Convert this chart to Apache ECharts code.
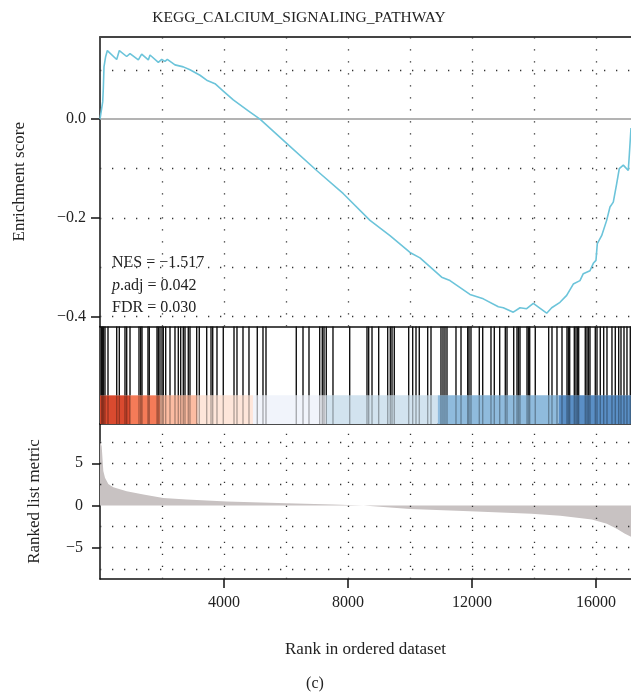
<!DOCTYPE html>
<html>
<head>
<meta charset="utf-8">
<script src="https://cdn.jsdelivr.net/npm/echarts@6/dist/echarts.min.js"></script>
<style>
  html, body { margin: 0; padding: 0; background: #fff; }
  #main { width: 631px; height: 698px; }
</style>
</head>
<body>
<div id="main"></div>
<script>
// gene list length
const N = 17130

// running enrichment score (rank, ES)
const esRank = [0, 55, 87, 107, 129, 183, 237, 538, 624, 860, 968, 1237, 1344, 1559, 1613, 1882, 1990, 2097, 2172, 2419, 2473, 2688, 2903, 3226, 3441, 3710, 3978, 4300, 4784, 5161, 6022, 6990, 7850, 8710, 9355, 10000, 10323, 11022, 11290, 11935, 12365, 12850, 13011, 13333, 13549, 13764, 13978, 14410, 14572, 14839, 15055, 15268, 15484, 15591, 15807, 15914, 16000, 16043, 16183, 16345, 16452, 16559, 16667, 16752, 16882, 17042, 17075, 17130]
const esScore = [0, 0.0, 0.035, 0.062, 0.106, 0.127, 0.139, 0.121, 0.139, 0.127, 0.133, 0.12, 0.132, 0.12, 0.13, 0.115, 0.121, 0.117, 0.121, 0.11, 0.113, 0.106, 0.1, 0.089, 0.079, 0.072, 0.057, 0.039, 0.017, 0.0, -0.049, -0.104, -0.151, -0.205, -0.236, -0.27, -0.281, -0.32, -0.327, -0.355, -0.364, -0.38, -0.382, -0.391, -0.382, -0.384, -0.373, -0.393, -0.382, -0.371, -0.357, -0.334, -0.327, -0.313, -0.307, -0.292, -0.286, -0.252, -0.236, -0.205, -0.178, -0.168, -0.131, -0.1, -0.093, -0.104, -0.073, -0.018]

// positions of the gene set members in the ranked list
const hitRanks = [48, 81, 113, 161, 258, 539, 623, 806, 861, 968, 1258, 1313, 1355, 1548, 1590, 1839, 1881, 1935, 2000, 2042, 2119, 2258, 2419, 2526, 2603, 2687, 2742, 2848, 2903, 3119, 3203, 3442, 3581, 3636, 3774, 3977, 4323, 4419, 4613, 4806, 5074, 5258, 5355, 6332, 6549, 6742, 7087, 7171, 7226, 7300, 7516, 8055, 8613, 8668, 8775, 8990, 9281, 9365, 9420, 9494, 9958, 10087, 10194, 10300, 10571, 10678, 11000, 11065, 11129, 11194, 11484, 11646, 11862, 11904, 11968, 12236, 12346, 12613, 12720, 12894, 13075, 13130, 13346, 13452, 13500, 13549, 13775, 13823, 13862, 14042, 14474, 14581, 14742, 14904, 15065, 15113, 15152, 15301, 15355, 15404, 15442, 15655, 15710, 15758, 15807, 15978, 16033, 16139, 16249, 16355, 16516, 16623, 16733, 16807, 16904, 17000, 17107]

// colour band under the barcode
const bandEdges = [0, 968, 1935, 3150, 4935, 7290, 10895, 14797, 17130]
const bandColors = ['#da4a2f', '#f57b58', '#fcbca2', '#fee6da', '#f1f4fb', '#d2e3ef', '#8fbbdd', '#5a8fc6']

// ranked list metric (rank, value)
const metricRank = [0, 55, 107, 161, 268, 430, 860, 1400, 2040, 2800, 4090, 6020, 7520, 8500, 10000, 11930, 13920, 14850, 15870, 16350, 16670, 16920, 17130]
const metricValue = [7.7, 7.0, 4.1, 3.3, 2.55, 2.15, 1.7, 1.3, 0.9, 0.7, 0.47, 0.27, 0.12, 0.0, -0.4, -0.67, -0.98, -1.2, -1.65, -2.15, -2.75, -3.3, -3.7]

// ticks and grid lines
const esTicks = [-0.4, -0.2, 0]
const esGrid = [0.1, -0.1, -0.2, -0.3, -0.4]
const metricTicks = [-5, 0, 5]
const metricGrid = [7.5, 5, 2.5, -2.5, -5, -7.5]
const rankTicks = [4000, 8000, 12000, 16000]
const rankGrid = [2000, 4000, 6000, 8000, 10000, 12000, 14000, 16000]

const title = 'KEGG_CALCIUM_SIGNALING_PATHWAY'
const stats = ['NES = −1.517', '{i|p}.adj = 0.042', 'FDR = 0.030']

const FONT = 'Liberation Serif'
const BAND_TOP = 0.294
const minus = v => String(v).replace('-', '−')

const dotted = { color: '#333', width: 1.3, type: [1.3, 10.7] }
const vLines = rankGrid.map(x => ({ xAxis: x }))

const plainX = (grid, pos) => ({
  gridIndex: grid, type: 'value', min: 0, max: N, position: pos,
  axisLine: { show: true, onZero: false, lineStyle: { color: '#111', width: 1.5 } },
  axisTick: { show: false }, axisLabel: { show: false }, splitLine: { show: false }
})

const chart = echarts.init(document.getElementById('main'))
chart.setOption({
  animation: false,
  textStyle: { fontFamily: FONT },
  grid: [
    { left: 100, right: 0, top: 37, height: 289.5, outerBoundsMode: 'none' },
    { left: 100, right: 0, top: 326.5, height: 97.5, outerBoundsMode: 'none' },
    { left: 100, right: 0, top: 424, height: 155, outerBoundsMode: 'none' }
  ],
  xAxis: [
    Object.assign(plainX(0, 'top'), { axisLine: { show: true, onZero: false, lineStyle: { color: '#444', width: 2 } } }),
    plainX(1, 'top'),
    plainX(1, 'bottom'),
    {
      gridIndex: 2, type: 'value', min: 0, max: N, position: 'bottom',
      name: 'Rank in ordered dataset', nameLocation: 'middle', nameGap: 62,
      nameTextStyle: { fontFamily: FONT, fontSize: 17, color: '#222' },
      axisLine: { show: true, onZero: false, lineStyle: { color: '#111', width: 1.5 } },
      axisTick: { show: true, length: 9, customValues: rankTicks, lineStyle: { color: '#111', width: 1.5 } },
      axisLabel: { customValues: rankTicks, margin: 16, fontFamily: FONT, fontSize: 16, color: '#222', formatter: v => String(v) },
      splitLine: { show: false }
    }
  ],
  yAxis: [
    {
      gridIndex: 0, type: 'value', min: -0.42, max: 0.1665,
      name: 'Enrichment score', nameLocation: 'middle', nameGap: 72,
      nameTextStyle: { fontFamily: FONT, fontSize: 17, color: '#222' },
      axisLine: { show: true, onZero: false, lineStyle: { color: '#111', width: 1.5 } },
      axisTick: { show: true, length: 9, customValues: esTicks, lineStyle: { color: '#111', width: 1.5 } },
      axisLabel: {
        customValues: esTicks, margin: 14, fontFamily: FONT, fontSize: 16, color: '#222',
        formatter: v => minus(v.toFixed(1))
      },
      splitLine: { show: false }
    },
    {
      gridIndex: 1, type: 'value', min: 0, max: 1,
      axisLine: { show: true, onZero: false, lineStyle: { color: '#111', width: 1.5 } },
      axisTick: { show: false }, axisLabel: { show: false }, splitLine: { show: false }
    },
    {
      gridIndex: 2, type: 'value', min: -8.7, max: 9.65,
      name: 'Ranked list metric', nameLocation: 'middle', nameGap: 57,
      nameTextStyle: { fontFamily: FONT, fontSize: 17, color: '#222' },
      axisLine: { show: true, onZero: false, lineStyle: { color: '#111', width: 1.5 } },
      axisTick: { show: true, length: 8, customValues: metricTicks, lineStyle: { color: '#111', width: 1.5 } },
      axisLabel: {
        customValues: metricTicks, margin: 17, fontFamily: FONT, fontSize: 16, color: '#222',
        formatter: v => minus(v)
      },
      splitLine: { show: false }
    }
  ],
  series: [
    // running score + grid of the top panel
    {
      type: 'line', xAxisIndex: 0, yAxisIndex: 0, z: 3,
      data: esRank.map((r, i) => [r, esScore[i]]),
      showSymbol: false,
      lineStyle: { color: '#6cc4da', width: 1.6 },
      itemStyle: { color: '#6cc4da' },
      markLine: {
        silent: true, symbol: 'none', label: { show: false }, z: 1,
        lineStyle: dotted,
        data: [
          ...esGrid.map(y => ({ yAxis: y })),
          ...vLines,
          { yAxis: 0, lineStyle: { color: '#9a9a9a', width: 1.5, type: 'solid' } }
        ]
      }
    },
    // colour band
    {
      type: 'custom', xAxisIndex: 2, yAxisIndex: 1, z: 2,
      data: bandColors.map((c, i) => [bandEdges[i], bandEdges[i + 1], i]),
      renderItem: (params, api) => {
        const p0 = api.coord([api.value(0), BAND_TOP])
        const p1 = api.coord([api.value(1), 0])
        return {
          type: 'rect',
          shape: { x: p0[0], y: p0[1], width: p1[0] - p0[0], height: p1[1] - p0[1] },
          style: { fill: bandColors[api.value(2)] }
        }
      }
    },
    // barcode of hits
    {
      type: 'custom', xAxisIndex: 2, yAxisIndex: 1, z: 3,
      data: hitRanks.map(r => [r]),
      renderItem: (params, api) => {
        const t = api.coord([api.value(0), 1])
        const m = api.coord([api.value(0), BAND_TOP])
        const b = api.coord([api.value(0), 0])
        return {
          type: 'group',
          children: [
            { type: 'line', shape: { x1: t[0], y1: t[1], x2: m[0], y2: m[1] }, style: { stroke: '#111', lineWidth: 1.4 } },
            { type: 'line', shape: { x1: m[0], y1: m[1], x2: b[0], y2: b[1] }, style: { stroke: 'rgba(0,0,0,0.3)', lineWidth: 1.4 } }
          ]
        }
      }
    },
    // grid of the bottom panel (below the area)
    {
      type: 'line', xAxisIndex: 3, yAxisIndex: 2, z: 1, data: [],
      markLine: {
        silent: true, symbol: 'none', label: { show: false },
        lineStyle: dotted,
        data: [...metricGrid.map(y => ({ yAxis: y })), ...vLines]
      }
    },
    // ranked list metric
    {
      type: 'line', xAxisIndex: 3, yAxisIndex: 2, z: 2,
      data: metricRank.map((r, i) => [r, metricValue[i]]),
      showSymbol: false,
      lineStyle: { width: 0 },
      itemStyle: { color: '#c8c2c2' },
      areaStyle: { color: '#c8c2c2', opacity: 1 }
    }
  ],
  graphic: [
    {
      type: 'text', x: 299, y: 18,
      style: { text: title, fontFamily: FONT, fontSize: 15.5, fill: '#222', align: 'center', verticalAlign: 'middle' }
    },
    ...stats.map((s, i) => ({
      type: 'text', x: 112, y: 263 + i * 22.5, z: 10,
      style: {
        text: s, fontFamily: FONT, fontSize: 16, fill: '#222', verticalAlign: 'middle',
        rich: { i: { fontFamily: FONT, fontSize: 16, fontStyle: 'italic', fill: '#222' } }
      }
    })),
    {
      type: 'text', x: 315, y: 684,
      style: { text: '(c)', fontFamily: FONT, fontSize: 16, fill: '#222', align: 'center', verticalAlign: 'middle' }
    }
  ]
})
</script>
</body>
</html>
